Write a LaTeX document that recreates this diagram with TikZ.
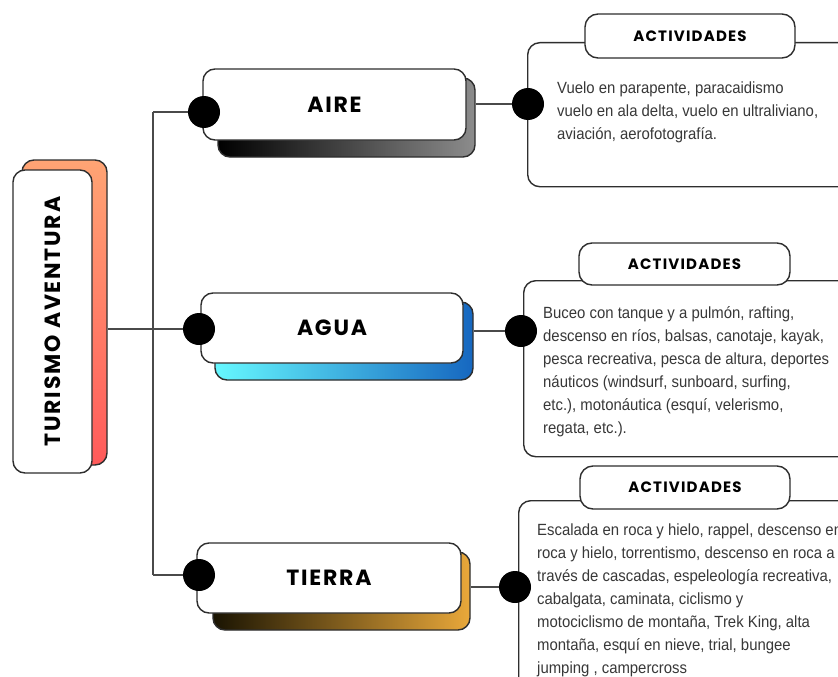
\documentclass[tikz,border=0pt]{standalone}
\usepackage{fontspec}
\setmainfont{Liberation Sans}
\newfontfamily\headfont[LetterSpace=8]{Poppins}
\newfontfamily\bodyfont[FakeStretch=0.92]{Liberation Sans}
\definecolor{linec}{HTML}{4A4A4A}
\definecolor{edgec}{HTML}{2E2E2E}
\definecolor{bodyc}{HTML}{383838}
\definecolor{peach}{HTML}{FFA474}
\definecolor{redc}{HTML}{FF5A5A}
\definecolor{grayr}{HTML}{8C8C8C}
\definecolor{cyanl}{HTML}{66F8FF}
\definecolor{bluer}{HTML}{1667C0}
\definecolor{darkl}{HTML}{1A1402}
\definecolor{goldr}{HTML}{E9A83A}
\begin{document}
\begin{tikzpicture}[x=1pt,y=-1pt,
  conn/.style={draw=linec, line width=1.3pt},
  front/.style={draw=edgec, line width=1.4pt, fill=white, rounded corners=12pt, inner sep=0pt},
  back/.style={draw=edgec, line width=1.4pt, rounded corners=12pt, inner sep=0pt},
  dot/.style={circle, fill=black, minimum size=32pt, inner sep=0pt},
  detail/.style={draw=edgec, line width=1.4pt, rounded corners=12pt, fill=white, inner sep=0pt, anchor=north west},
  tab/.style={draw=edgec, line width=1.4pt, rounded corners=13pt, fill=white, inner sep=0pt,
    font=\headfont\bfseries\fontsize{15}{18}\selectfont},
  head/.style={font=\headfont\bfseries\fontsize{22}{26}\selectfont},
  body/.style={anchor=base west, align=left, inner sep=0pt, text=bodyc,
    font=\bodyfont\fontsize{16.2}{23}\selectfont},
]
\clip (0,0) rectangle (838,677);
\fill[white] (0,0) rectangle (838,677);

% positions
\coordinate (pa) at (204,112);
\coordinate (pg) at (199,329);
\coordinate (pt) at (199,575);
\coordinate (ttop) at (153,112);
\coordinate (j) at (153,329);
\coordinate (tbot) at (153,575);
\coordinate (pd1) at (528,104);
\coordinate (pd2) at (521,331);
\coordinate (pd3) at (515,587);

% central topic
\node[back, top color=peach, bottom color=redc, minimum width=85pt, minimum height=305pt] (tb) at (64.5,312.5) {};
\node[front, head, rotate=90, minimum width=303pt, minimum height=79pt] (tf) at (52.5,321.5) {TURISMO AVENTURA};

% trunk
\draw[conn] (tb.east |- j) -- (j);
\draw[conn] (ttop) -- (tbot);
\draw[conn] (ttop) -- (pa);
\draw[conn] (j) -- (pg);
\draw[conn] (tbot) -- (pt);

% branch boxes
\node[back, left color=black, right color=grayr, minimum width=257pt, minimum height=79pt] (ab) at (346.5,117.5) {};
\node[front, head, minimum width=263pt, minimum height=71pt] (af) at (334.5,104.5) {AIRE};

\node[back, left color=cyanl, right color=bluer, minimum width=258pt, minimum height=78pt] (gb) at (344,341) {};
\node[front, head, minimum width=262pt, minimum height=70pt] (gf) at (332,328) {AGUA};

\node[back, left color=darkl, right color=goldr, minimum width=257pt, minimum height=78pt] (tib) at (341.5,591) {};
\node[front, head, minimum width=264pt, minimum height=70pt] (tif) at (329,578) {TIERRA};

% right connectors
\draw[conn] (ab.east |- pd1) -- (pd1);
\draw[conn] (gb.east |- pd2) -- (pd2);
\draw[conn] (tib.east |- pd3) -- (pd3);

% detail boxes
\node[detail, minimum width=340pt, minimum height=144pt] (d1) at (527,42) {};
\node[tab, minimum width=210pt, minimum height=44pt] (h1) at (690,36) {ACTIVIDADES};
\node[body] (b1) at (557,139) {Vuelo en parapente, paracaidismo\\vuelo en ala delta, vuelo en ultraliviano,\\aviación, aerofotografía.};

\node[detail, minimum width=340pt, minimum height=176pt] (d2) at (523,280) {};
\node[tab, minimum width=211pt, minimum height=42pt] (h2) at (684.5,264) {ACTIVIDADES};
\node[body] (b2) at (543,433) {Buceo con tanque y a pulmón, rafting,\\descenso en ríos, balsas, canotaje, kayak,\\pesca recreativa, pesca de altura, deportes\\náuticos (windsurf, sunboard, surfing,\\etc.), motonáutica (esquí, velerismo,\\regata, etc.).};

\node[detail, minimum width=340pt, minimum height=200pt] (d3) at (518,500) {};
\node[tab, minimum width=210pt, minimum height=43pt] (h3) at (685,487.5) {ACTIVIDADES};
\node[body] (b3) at (537,673) {Escalada en roca y hielo, rappel, descenso en\\roca y hielo, torrentismo, descenso en roca a\\través de cascadas, espeleología recreativa,\\cabalgata, caminata, ciclismo y\\motociclismo de montaña, Trek King, alta\\montaña, esquí en nieve, trial, bungee\\jumping , campercross};

% dots
\node[dot] (da) at (pa) {};
\node[dot] (dg) at (pg) {};
\node[dot] (dt) at (pt) {};
\node[dot] (dd1) at (pd1) {};
\node[dot] (dd2) at (pd2) {};
\node[dot] (dd3) at (pd3) {};
\end{tikzpicture}
\end{document}
